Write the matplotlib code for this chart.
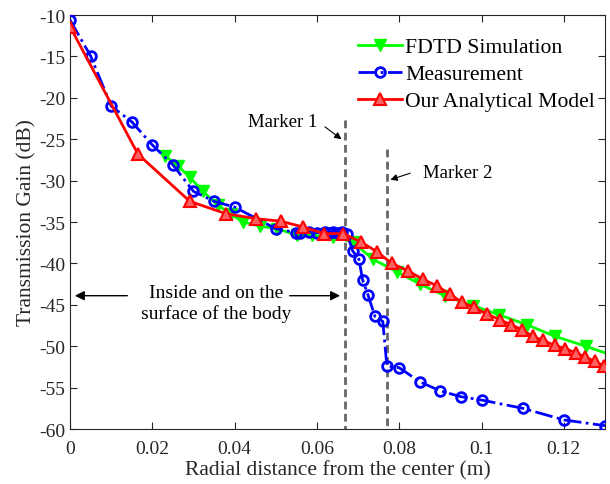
import numpy as np
import matplotlib
matplotlib.use("Agg")
import matplotlib.pyplot as plt

plt.rcParams['font.family'] = ['Liberation Serif', 'DejaVu Serif']
plt.rcParams['axes.unicode_minus'] = False

# FDTD simulation (green)
fdtd_x = [0.0231, 0.0262, 0.0291, 0.0323, 0.0360, 0.0390, 0.0420, 0.0461, 0.0503,
          0.0551, 0.0588, 0.0639, 0.0687, 0.0736, 0.0794, 0.0850, 0.0911, 0.0979,
          0.1042, 0.1110, 0.1178, 0.1253, 0.1300]
fdtd_y = [-27.0, -28.2, -29.6, -31.3, -33.0, -34.0, -35.0, -35.5, -35.8,
          -36.6, -36.6, -36.8, -37.4, -39.5, -41.0, -42.5, -43.9, -45.1,
          -46.2, -47.4, -48.8, -50.0, -50.8]

# Measurement (blue)
meas_x = [0, 0.005, 0.01, 0.015, 0.02, 0.025, 0.03, 0.035, 0.04, 0.05, 0.055,
          0.056, 0.058, 0.06, 0.062, 0.063, 0.064, 0.065, 0.066, 0.0673,
          0.0687, 0.0702, 0.0711, 0.0724, 0.0741, 0.076, 0.077, 0.08, 0.085,
          0.09, 0.095, 0.1, 0.11, 0.12, 0.13]
meas_y = [-10.6, -14.95, -21.0, -22.9, -25.7, -28.1, -31.3, -32.5, -33.2, -35.8, -36.3,
          -36.3, -36.2, -36.3, -36.2, -36.3, -36.2, -36.3, -36.2, -36.4,
          -38.5, -39.5, -42.0, -43.8, -46.4, -47.0, -52.4, -52.6, -54.3,
          -55.4, -56.1, -56.5, -57.5, -58.9, -59.6]

# Analytical model (red)
model_x = [0, 0.0165, 0.0291, 0.0379, 0.0452, 0.0512, 0.0566, 0.0617, 0.0663,
           0.0707, 0.0746, 0.0782, 0.0821, 0.0857, 0.0891, 0.0923, 0.0952, 0.0981,
           0.1013, 0.1044, 0.1071, 0.1098, 0.1124, 0.1149, 0.1178, 0.1204, 0.1229,
           0.1251, 0.1275, 0.1297]
model_y = [-11.4, -26.8, -32.5, -34.0, -34.6, -34.9, -35.6, -36.4, -36.4,
           -37.4, -38.6, -40.0, -40.9, -41.9, -42.7, -43.7, -44.7, -45.3,
           -46.1, -46.8, -47.4, -48.0, -48.8, -49.3, -49.9, -50.3, -50.8,
           -51.3, -51.8, -52.4]

marker1 = 0.0667
marker2 = 0.077

xticks = [0, 0.02, 0.04, 0.06, 0.08, 0.1, 0.12]
xticklabels = ['0', '0.02', '0.04', '0.06', '0.08', '0.1', '0.12']
yticks = [-60, -55, -50, -45, -40, -35, -30, -25, -20, -15, -10]

fig = plt.figure(figsize=(6.1, 4.85), dpi=100)
ax = fig.add_axes([0.1148, 0.1134, 0.877, 0.8536])

# marker lines
ax.plot([marker1, marker1], [-22.7, -60], color='0.4', lw=2, dashes=(2.8, 1.6), zorder=1)
ax.plot([marker2, marker2], [-26.2, -60], color='0.4', lw=2, dashes=(2.8, 1.6), zorder=1)

ax.plot(fdtd_x, fdtd_y, '-', color='#00ff00', lw=2, marker='v', ms=8,
        mfc='#00ff00', mec='#00ff00', markevery=list(range(len(fdtd_x) - 1)),
        label='FDTD Simulation', zorder=3)
ax.plot(meas_x, meas_y, '-.', color='#0000ff', lw=2, marker='o', ms=7,
        mfc='none', mec='#0000ff', mew=2, label='Measurement', zorder=4)
ax.plot(model_x, model_y, '-', color='#ff0000', lw=2, marker='^', ms=8,
        mfc='#ff6060', mec='#ff0000', mew=1.5, label='Our Analytical Model', zorder=5)

ax.set_xlim(0, 0.13)
ax.set_ylim(-60, -10)
ax.set_xticks(xticks)
ax.set_xticklabels(xticklabels)
ax.set_yticks(yticks)
ax.tick_params(direction='in', top=True, right=True, labelsize=14, colors='0.15',
               length=5, width=0.8)
ax.tick_params(axis='x', pad=8)
for s in ax.spines.values():
    s.set_color('0.15')
    s.set_linewidth(0.8)

ax.set_xlabel('Radial distance from the center (m)', fontsize=15.5, color='0.15', labelpad=2)
ax.set_ylabel('Transmission Gain (dB)', fontsize=15.5, color='0.15', labelpad=2)

ax.legend(loc='upper right', bbox_to_anchor=(1.005, 0.978), frameon=False, fontsize=15.6,
          handlelength=2.0, handletextpad=0.15, labelspacing=0.32, borderaxespad=0.2)

arr = dict(arrowstyle='-|>', color='black', lw=1, mutation_scale=14)
ax.annotate('', xy=(0.0005, -43.9), xytext=(0.0146, -43.9), arrowprops=arr)
ax.annotate('', xy=(marker1 - 0.0004, -43.9), xytext=(0.0527, -43.9), arrowprops=arr)
ax.text(0.0355, -44.8, 'Inside and on the\nsurface of the body', fontsize=14,
        ha='center', va='center', linespacing=1.25)

ax.annotate('', xy=(marker1 - 0.0002, -25.2), xytext=(0.0614, -23.3),
            arrowprops=dict(arrowstyle='-|>', color='black', lw=0.8, mutation_scale=10))
ax.text(0.0517, -22.9, 'Marker 1', fontsize=13.5, ha='center', va='center')

ax.annotate('', xy=(marker2 + 0.0002, -30.0), xytext=(0.0833, -29.0),
            arrowprops=dict(arrowstyle='-|>', color='black', lw=0.8, mutation_scale=10))
ax.text(0.0857, -29.0, 'Marker 2', fontsize=13.5, ha='left', va='center')

fig.savefig('out.png', dpi=100)
